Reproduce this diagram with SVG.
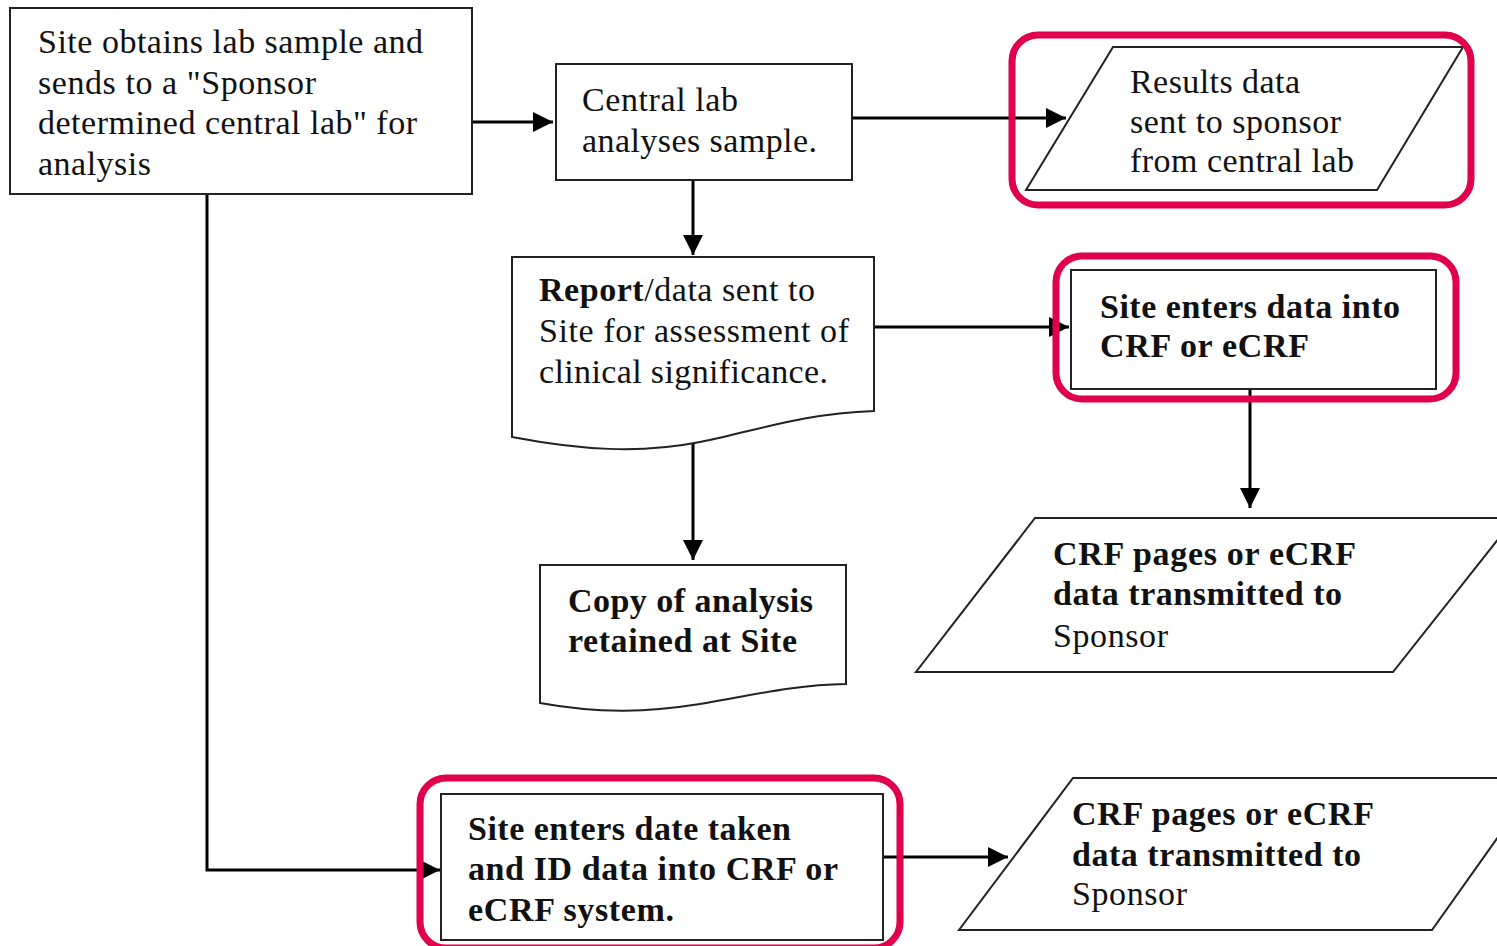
<svg xmlns="http://www.w3.org/2000/svg" width="1497" height="946" viewBox="0 0 1497 946">
<style>
.s{fill:#fff;stroke:#222;stroke-width:2}
.t{font-family:"Liberation Serif","Times New Roman",serif;font-size:34px;fill:#111}
.b{font-weight:bold}
.c{fill:none;stroke:#000;stroke-width:3}
.h{fill:none;stroke:#e0004b;stroke-width:7}
</style>
<defs>
<marker id="ab" viewBox="0 0 10 10" refX="10" refY="5" markerWidth="20" markerHeight="20" orient="auto" markerUnits="userSpaceOnUse">
<path d="M0,0 L10,5 L0,10 z" fill="#000"/>
</marker>
</defs>
<rect width="1497" height="946" fill="#fff"/>
<g id="connectors">
<path class="c" d="M472,122 H553" marker-end="url(#ab)"/>
<path class="c" d="M852,118 H1066" marker-end="url(#ab)"/>
<path class="c" d="M693,180 V255" marker-end="url(#ab)"/>
<path class="c" d="M874,327 H1069" marker-end="url(#ab)"/>
<path class="c" d="M1250,389 V508" marker-end="url(#ab)"/>
<path class="c" d="M693,440 V560" marker-end="url(#ab)"/>
<path class="c" d="M207,194 V870 H440" marker-end="url(#ab)"/>
<path class="c" d="M883,857 H1008" marker-end="url(#ab)"/>
</g>
<g id="n1">
<rect class="s" x="10" y="8" width="462" height="186"/>
<text class="t" x="38" y="53" textLength="385">Site obtains lab sample and</text>
<text class="t" x="38" y="94" textLength="278">sends to a "Sponsor</text>
<text class="t" x="38" y="134" textLength="379">determined central lab" for</text>
<text class="t" x="38" y="175" textLength="113">analysis</text>
</g>
<g id="n2">
<rect class="s" x="556" y="64" width="296" height="116"/>
<text class="t" x="582" y="111" textLength="156">Central lab</text>
<text class="t" x="582" y="152" textLength="235">analyses sample.</text>
</g>
<g id="n3">
<path class="s" d="M1113,47 H1463 L1377,190 H1026 Z"/>
<text class="t" x="1130" y="93" textLength="170">Results data</text>
<text class="t" x="1130" y="133" textLength="211">sent to sponsor</text>
<text class="t" x="1130" y="172" textLength="224">from central lab</text>
<rect class="h" x="1012" y="35" width="459" height="170" rx="26"/>
</g>
<g id="n4">
<path class="s" d="M512,257 H874 V411 C800,414 760,430 700,442 C640,454 580,450 512,437 Z"/>
<text class="t" x="539" y="301" textLength="276"><tspan class="b">Report</tspan>/data sent to</text>
<text class="t" x="539" y="342" textLength="310">Site for assessment of</text>
<text class="t" x="539" y="383" textLength="289">clinical significance.</text>
</g>
<g id="n5">
<rect class="s" x="1071" y="270" width="365" height="119"/>
<text class="t b" x="1100" y="318" textLength="300">Site enters data into</text>
<text class="t b" x="1100" y="357" textLength="209">CRF or eCRF</text>
<rect class="h" x="1056" y="256" width="400" height="143" rx="26"/>
</g>
<g id="n6">
<path class="s" d="M1035,518 H1515 L1393,672 H916 Z"/>
<text class="t b" x="1053" y="565" textLength="303">CRF pages or eCRF</text>
<text class="t b" x="1053" y="605" textLength="289">data transmitted to</text>
<text class="t" x="1053" y="647" textLength="115">Sponsor</text>
</g>
<g id="n7">
<path class="s" d="M540,565 H846 V684 C790,685 750,696 700,704 C650,712 600,714 540,703 Z"/>
<text class="t b" x="568" y="612" textLength="245">Copy of analysis</text>
<text class="t b" x="568" y="652" textLength="229">retained at Site</text>
</g>
<g id="n8">
<rect class="s" x="441" y="794" width="442" height="146"/>
<text class="t b" x="468" y="840" textLength="323">Site enters date taken</text>
<text class="t b" x="468" y="880" textLength="370">and ID data into CRF or</text>
<text class="t b" x="468" y="921" textLength="206">eCRF system.</text>
<rect class="h" x="420" y="778" width="480" height="170" rx="26"/>
</g>
<g id="n9">
<path class="s" d="M1073,778 H1540 L1432,930 H959 Z"/>
<text class="t b" x="1072" y="825" textLength="302">CRF pages or eCRF</text>
<text class="t b" x="1072" y="866" textLength="289">data transmitted to</text>
<text class="t" x="1072" y="905" textLength="115">Sponsor</text>
</g>
</svg>
